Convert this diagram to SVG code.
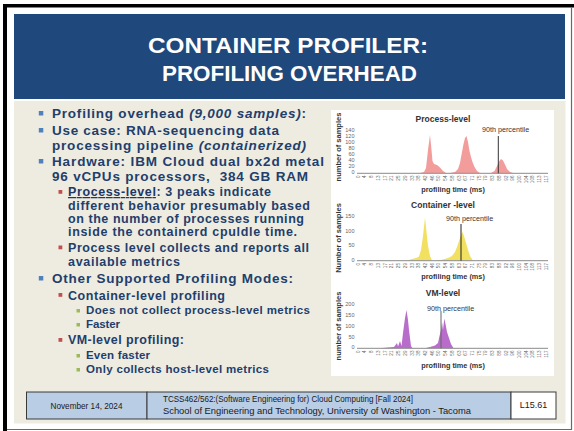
<svg xmlns="http://www.w3.org/2000/svg" width="574" height="431" viewBox="0 0 574 431">
<style>
.title{font-family:"Liberation Sans",Arial,sans-serif;font-size:22px;font-weight:bold;fill:#ffffff;text-anchor:middle}
.t1{font-family:"Liberation Sans",Arial,sans-serif;font-size:13.5px;font-weight:bold;fill:#223e6c}
.t2{font-family:"Liberation Sans",Arial,sans-serif;font-size:12.5px;font-weight:bold;fill:#223e6c}
.t3{font-family:"Liberation Sans",Arial,sans-serif;font-size:11.5px;font-weight:bold;fill:#223e6c}
.b1{fill:#4f81bd}
.b2{fill:#c0504d}
.b3{fill:#9bbb59}
.ct{font-family:"Liberation Sans",Arial,sans-serif;font-size:8.5px;font-weight:bold;fill:#333;text-anchor:middle}
.pc{font-family:"Liberation Sans",Arial,sans-serif;font-size:7.2px;fill:#333}
.xl{font-family:"Liberation Sans",Arial,sans-serif;font-size:7.3px;font-weight:bold;fill:#333;text-anchor:middle}
.yl{font-family:"Liberation Sans",Arial,sans-serif;font-size:7.5px;font-weight:bold;fill:#333;text-anchor:middle}
.yt{font-family:"Liberation Sans",Arial,sans-serif;font-size:5.5px;fill:#666;text-anchor:end}
.xt{font-family:"Liberation Sans",Arial,sans-serif;font-size:4.6px;fill:#666;text-anchor:end}
.axis{stroke:#8a8a8a;stroke-width:1}
.ft{font-family:"Liberation Sans",Arial,sans-serif;font-size:9px;fill:#1a1a1a}
.box{stroke:#3a3a3a;stroke-width:1}
</style>
<rect x="0" y="0" width="574" height="431" fill="#ffffff"/>
<rect x="3" y="4" width="571" height="3.5" fill="#000"/>
<rect x="3" y="4" width="4" height="427" fill="#000"/>
<line x1="571.5" y1="7" x2="571.5" y2="430" stroke="#6a6a6a" stroke-width="1.2"/>
<line x1="7" y1="429.5" x2="572" y2="429.5" stroke="#6a6a6a" stroke-width="1.2"/>
<rect x="14" y="14" width="551" height="85" fill="#1f487c"/>
<rect x="14" y="101" width="551.5" height="322.5" fill="#eeece1"/>

<g id="title">
<text class="title" x="288" y="53" textLength="280" lengthAdjust="spacingAndGlyphs">CONTAINER PROFILER:</text>
<text class="title" x="289.5" y="81" textLength="255" lengthAdjust="spacingAndGlyphs">PROFILING OVERHEAD</text>
</g>

<g id="bullets">
<rect class="b1" x="38.8" y="111" width="4.5" height="4.5"/>
<text class="t1" x="52" y="118" textLength="254" lengthAdjust="spacing">Profiling overhead <tspan font-style="italic">(9,000 samples)</tspan>:</text>
<rect class="b1" x="38.8" y="128" width="4.5" height="4.5"/>
<text class="t1" x="52" y="135" textLength="227" lengthAdjust="spacing">Use case: RNA-sequencing data</text>
<text class="t1" x="52" y="149.5" textLength="254" lengthAdjust="spacing">processing pipeline <tspan font-style="italic">(containerized)</tspan></text>
<rect class="b1" x="38.8" y="159" width="4.5" height="4.5"/>
<text class="t1" x="52" y="166" textLength="272" lengthAdjust="spacing">Hardware: IBM Cloud dual bx2d metal</text>
<text class="t1" x="52" y="180.5" textLength="256" lengthAdjust="spacing" xml:space="preserve">96 vCPUs processors,  384 GB RAM</text>

<rect class="b2" x="58.5" y="190" width="3.8" height="3.8"/>
<text class="t2" x="68" y="196" textLength="203" lengthAdjust="spacing"><tspan text-decoration="underline" fill="#1d3768">Process-level</tspan>: 3 peaks indicate</text>
<text class="t2" x="68" y="209.5" textLength="242" lengthAdjust="spacing">different behavior presumably based</text>
<text class="t2" x="68" y="222.5" textLength="236" lengthAdjust="spacing">on the number of processes running</text>
<text class="t2" x="68" y="235.5" textLength="229" lengthAdjust="spacing">inside the containerd cpuldle time.</text>
<rect class="b2" x="58.5" y="245.5" width="3.8" height="3.8"/>
<text class="t2" x="68" y="251.5" textLength="241" lengthAdjust="spacing">Process level collects and reports all</text>
<text class="t2" x="68" y="265.5" textLength="112" lengthAdjust="spacing">available metrics</text>

<rect class="b1" x="38.8" y="276" width="4.5" height="4.5"/>
<text class="t1" x="52" y="283" textLength="241" lengthAdjust="spacing">Other Supported Profiling Modes:</text>
<rect class="b2" x="58.5" y="293" width="3.8" height="3.8"/>
<text class="t2" x="68" y="299.5" textLength="157" lengthAdjust="spacing">Container-level profiling</text>
<rect class="b3" x="76.5" y="309" width="3.5" height="3.5"/>
<text class="t3" x="86" y="314" textLength="224" lengthAdjust="spacing">Does not collect process-level metrics</text>
<rect class="b3" x="76.5" y="323" width="3.5" height="3.5"/>
<text class="t3" x="86" y="328" textLength="34" lengthAdjust="spacing">Faster</text>
<rect class="b2" x="58.5" y="338" width="3.8" height="3.8"/>
<text class="t2" x="68" y="344" textLength="116" lengthAdjust="spacing">VM-level profiling:</text>
<rect class="b3" x="76.5" y="354" width="3.5" height="3.5"/>
<text class="t3" x="86" y="359" textLength="64" lengthAdjust="spacing">Even faster</text>
<rect class="b3" x="76.5" y="368" width="3.5" height="3.5"/>
<text class="t3" x="86" y="373" textLength="183" lengthAdjust="spacing">Only collects host-level metrics</text>
</g>

<rect x="331" y="110" width="223" height="266" fill="#ffffff"/>

<g id="chart-process">
<text class="ct" x="443" y="122">Process-level</text>
<text class="yl" transform="translate(340.5,147) rotate(-90)">number of samples</text>
<text class="yt" x="354.5" y="132">140</text>
<text class="yt" x="354.5" y="138">120</text>
<text class="yt" x="354.5" y="144">100</text>
<text class="yt" x="354.5" y="150">80</text>
<text class="yt" x="354.5" y="156">60</text>
<text class="yt" x="354.5" y="162">40</text>
<text class="yt" x="354.5" y="168">20</text>
<text class="yt" x="354.5" y="174">0</text>
<path fill="#f39c9c" d="M420,173 L424,172 L426,168 L428,150 L430,135 L431.5,150 L432.5,161 L434,164 L437,165 L440,167.5 L443,171 L446,173 Z"/>
<path fill="#f39c9c" d="M450,173 L455,172 L458,169 L460,163 L462,152 L463.5,144 L465,138 L466.5,136 L468,142 L469.5,151 L471,157 L472.5,162 L474.5,167 L477,171 L480,173 Z"/>
<path fill="#f39c9c" d="M491,173 L494.5,171 L497,166 L499,161.5 L501,159 L503,160.5 L505,164.5 L507,169 L510,172 L513,173 Z"/>
<line class="axis" x1="357" y1="173.3" x2="548" y2="173.3"/>
<line x1="498.3" y1="136" x2="498.3" y2="173.3" stroke="#333" stroke-width="1"/>
<text class="pc" x="482" y="132">90th percentile</text>
<text class="xl" x="453" y="192">profiling time (ms)</text>
<g>
<text class="xt" transform="translate(359.7,175.5) rotate(-90)">0</text>
<text class="xt" transform="translate(366.4,175.5) rotate(-90)">4</text>
<text class="xt" transform="translate(373.1,175.5) rotate(-90)">8</text>
<text class="xt" transform="translate(379.9,175.5) rotate(-90)">13</text>
<text class="xt" transform="translate(386.6,175.5) rotate(-90)">17</text>
<text class="xt" transform="translate(393.3,175.5) rotate(-90)">21</text>
<text class="xt" transform="translate(400,175.5) rotate(-90)">25</text>
<text class="xt" transform="translate(406.7,175.5) rotate(-90)">29</text>
<text class="xt" transform="translate(413.5,175.5) rotate(-90)">33</text>
<text class="xt" transform="translate(420.2,175.5) rotate(-90)">38</text>
<text class="xt" transform="translate(426.9,175.5) rotate(-90)">42</text>
<text class="xt" transform="translate(433.6,175.5) rotate(-90)">46</text>
<text class="xt" transform="translate(440.3,175.5) rotate(-90)">50</text>
<text class="xt" transform="translate(447.1,175.5) rotate(-90)">54</text>
<text class="xt" transform="translate(453.8,175.5) rotate(-90)">58</text>
<text class="xt" transform="translate(460.5,175.5) rotate(-90)">63</text>
<text class="xt" transform="translate(467.2,175.5) rotate(-90)">67</text>
<text class="xt" transform="translate(473.9,175.5) rotate(-90)">71</text>
<text class="xt" transform="translate(480.7,175.5) rotate(-90)">75</text>
<text class="xt" transform="translate(487.4,175.5) rotate(-90)">79</text>
<text class="xt" transform="translate(494.1,175.5) rotate(-90)">83</text>
<text class="xt" transform="translate(500.8,175.5) rotate(-90)">88</text>
<text class="xt" transform="translate(507.5,175.5) rotate(-90)">92</text>
<text class="xt" transform="translate(514.3,175.5) rotate(-90)">96</text>
<text class="xt" transform="translate(521,175.5) rotate(-90)">100</text>
<text class="xt" transform="translate(527.7,175.5) rotate(-90)">104</text>
<text class="xt" transform="translate(534.4,175.5) rotate(-90)">108</text>
<text class="xt" transform="translate(541.1,175.5) rotate(-90)">113</text>
<text class="xt" transform="translate(547.9,175.5) rotate(-90)">117</text>
</g>
</g>

<g id="chart-container">
<text class="ct" x="443" y="207.5">Container -level</text>
<text class="yl" transform="translate(340.5,238) rotate(-90)">Number of samples</text>
<text class="yt" x="354.5" y="218">150</text>
<text class="yt" x="354.5" y="232.5">100</text>
<text class="yt" x="354.5" y="247">50</text>
<text class="yt" x="354.5" y="261.5">0</text>
<path fill="#f2e060" d="M407,260.5 L412,259 L416,258 L419,256.5 L421,250 L423,236 L425,217.5 L426.5,232 L428,246 L430,256 L432,260.5 Z"/>
<path fill="#f2e060" d="M437,260.5 L443,259.5 L448,258 L452,256 L455,252 L457,247 L459,241 L461,235 L462.5,232 L464,236 L466,243 L468,250 L470,256 L473,260.5 Z"/>
<line class="axis" x1="357" y1="260.7" x2="548" y2="260.7"/>
<line x1="461" y1="224" x2="461" y2="260.7" stroke="#222" stroke-width="1"/>
<text class="pc" x="446" y="221">90th percentile</text>
<text class="xl" x="453" y="278.5">profiling time (ms)</text>
<g>
<text class="xt" transform="translate(359.7,263) rotate(-90)">0</text>
<text class="xt" transform="translate(366.4,263) rotate(-90)">4</text>
<text class="xt" transform="translate(373.1,263) rotate(-90)">8</text>
<text class="xt" transform="translate(379.9,263) rotate(-90)">13</text>
<text class="xt" transform="translate(386.6,263) rotate(-90)">17</text>
<text class="xt" transform="translate(393.3,263) rotate(-90)">21</text>
<text class="xt" transform="translate(400,263) rotate(-90)">25</text>
<text class="xt" transform="translate(406.7,263) rotate(-90)">29</text>
<text class="xt" transform="translate(413.5,263) rotate(-90)">33</text>
<text class="xt" transform="translate(420.2,263) rotate(-90)">38</text>
<text class="xt" transform="translate(426.9,263) rotate(-90)">42</text>
<text class="xt" transform="translate(433.6,263) rotate(-90)">46</text>
<text class="xt" transform="translate(440.3,263) rotate(-90)">50</text>
<text class="xt" transform="translate(447.1,263) rotate(-90)">54</text>
<text class="xt" transform="translate(453.8,263) rotate(-90)">58</text>
<text class="xt" transform="translate(460.5,263) rotate(-90)">63</text>
<text class="xt" transform="translate(467.2,263) rotate(-90)">67</text>
<text class="xt" transform="translate(473.9,263) rotate(-90)">71</text>
<text class="xt" transform="translate(480.7,263) rotate(-90)">75</text>
<text class="xt" transform="translate(487.4,263) rotate(-90)">79</text>
<text class="xt" transform="translate(494.1,263) rotate(-90)">83</text>
<text class="xt" transform="translate(500.8,263) rotate(-90)">88</text>
<text class="xt" transform="translate(507.5,263) rotate(-90)">92</text>
<text class="xt" transform="translate(514.3,263) rotate(-90)">96</text>
<text class="xt" transform="translate(521,263) rotate(-90)">100</text>
<text class="xt" transform="translate(527.7,263) rotate(-90)">104</text>
<text class="xt" transform="translate(534.4,263) rotate(-90)">108</text>
<text class="xt" transform="translate(541.1,263) rotate(-90)">113</text>
<text class="xt" transform="translate(547.9,263) rotate(-90)">117</text>
</g>
</g>

<g id="chart-vm">
<text class="ct" x="443" y="296">VM-level</text>
<text class="yl" transform="translate(340.5,326) rotate(-90)">number of samples</text>
<text class="yt" x="354.5" y="305.5">200</text>
<text class="yt" x="354.5" y="316.5">150</text>
<text class="yt" x="354.5" y="327.5">100</text>
<text class="yt" x="354.5" y="338.5">50</text>
<text class="yt" x="354.5" y="349">0</text>
<path fill="#b96dca" d="M380,348.3 L388,347.5 L394,347 L397,343 L398,346.5 L400,341 L401.5,346 L403,333 L405,318 L406.5,310 L408,320 L409,330 L410,338 L411,346 L412.5,348.3 Z"/>
<path fill="#b96dca" d="M425,348.3 L430,347 L435,345.5 L438,343 L439.5,336 L441,330 L442,322 L443,330 L444.3,318.5 L445.5,324 L447,332 L449,338 L451,344 L453.5,348.3 Z"/>
<line class="axis" x1="357" y1="348.3" x2="548" y2="348.3"/>
<line x1="441" y1="311" x2="441" y2="348.3" stroke="#666" stroke-width="1"/>
<text class="pc" x="427" y="311" fill="#777">90th percentile</text>
<text class="xl" x="453" y="367.5">profiling time (ms)</text>
<g>
<text class="xt" transform="translate(359.7,350.5) rotate(-90)">0</text>
<text class="xt" transform="translate(366.4,350.5) rotate(-90)">4</text>
<text class="xt" transform="translate(373.1,350.5) rotate(-90)">8</text>
<text class="xt" transform="translate(379.9,350.5) rotate(-90)">13</text>
<text class="xt" transform="translate(386.6,350.5) rotate(-90)">17</text>
<text class="xt" transform="translate(393.3,350.5) rotate(-90)">21</text>
<text class="xt" transform="translate(400,350.5) rotate(-90)">25</text>
<text class="xt" transform="translate(406.7,350.5) rotate(-90)">29</text>
<text class="xt" transform="translate(413.5,350.5) rotate(-90)">33</text>
<text class="xt" transform="translate(420.2,350.5) rotate(-90)">38</text>
<text class="xt" transform="translate(426.9,350.5) rotate(-90)">42</text>
<text class="xt" transform="translate(433.6,350.5) rotate(-90)">46</text>
<text class="xt" transform="translate(440.3,350.5) rotate(-90)">50</text>
<text class="xt" transform="translate(447.1,350.5) rotate(-90)">54</text>
<text class="xt" transform="translate(453.8,350.5) rotate(-90)">58</text>
<text class="xt" transform="translate(460.5,350.5) rotate(-90)">63</text>
<text class="xt" transform="translate(467.2,350.5) rotate(-90)">67</text>
<text class="xt" transform="translate(473.9,350.5) rotate(-90)">71</text>
<text class="xt" transform="translate(480.7,350.5) rotate(-90)">75</text>
<text class="xt" transform="translate(487.4,350.5) rotate(-90)">79</text>
<text class="xt" transform="translate(494.1,350.5) rotate(-90)">83</text>
<text class="xt" transform="translate(500.8,350.5) rotate(-90)">88</text>
<text class="xt" transform="translate(507.5,350.5) rotate(-90)">92</text>
<text class="xt" transform="translate(514.3,350.5) rotate(-90)">96</text>
<text class="xt" transform="translate(521,350.5) rotate(-90)">100</text>
<text class="xt" transform="translate(527.7,350.5) rotate(-90)">104</text>
<text class="xt" transform="translate(534.4,350.5) rotate(-90)">108</text>
<text class="xt" transform="translate(541.1,350.5) rotate(-90)">113</text>
<text class="xt" transform="translate(547.9,350.5) rotate(-90)">117</text>
</g>
</g>

<g id="footer-date">
<rect class="box" x="26.5" y="392" width="120.5" height="27" fill="#b9cde5"/>
<text class="ft" x="86.5" y="409" text-anchor="middle" font-size="9.8" textLength="72" lengthAdjust="spacingAndGlyphs">November 14, 2024</text>
</g>
<g id="footer-course">
<rect class="box" x="147" y="392" width="364" height="27" fill="#b9cde5"/>
<text class="ft" x="163" y="401.5" textLength="250" lengthAdjust="spacingAndGlyphs">TCSS462/562:(Software Engineering for) Cloud Computing [Fall 2024]</text>
<text class="ft" x="163" y="414" textLength="308" lengthAdjust="spacingAndGlyphs">School of Engineering and Technology, University of Washington - Tacoma</text>
</g>
<g id="footer-page">
<rect class="box" x="511" y="392" width="45" height="27" fill="#ffffff"/>
<text class="ft" x="533.5" y="408" text-anchor="middle" font-size="7">L15.61</text>
</g>
</svg>
